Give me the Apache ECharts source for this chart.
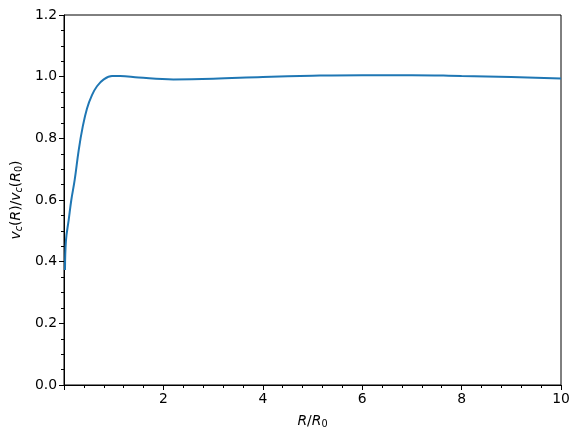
<!DOCTYPE html>
<html>
<head>
<meta charset="utf-8">
<script src="https://cdn.jsdelivr.net/npm/echarts@6/dist/echarts.min.js"></script>
<style>
  html, body { margin: 0; padding: 0; background: #fff; }
  #main { width: 579px; height: 440px; }
</style>
</head>
<body>
<div id="main"></div>
<script>
// R/R0 values
var radius = [0.02, 0.04, 0.094, 0.147, 0.215, 0.296, 0.376, 0.463, 0.563, 0.664, 0.8, 0.966, 1.13, 1.5, 2.2, 3, 4, 5, 6, 7, 8, 9, 10];
// vc(R)/vc(R0)
var vcRatio = [0.373, 0.47, 0.535, 0.6, 0.665, 0.762, 0.837, 0.897, 0.94, 0.969, 0.991, 1.002, 1.002, 0.997, 0.991, 0.993, 0.999, 1.003, 1.005, 1.005, 1.002, 0.999, 0.994];

var points = radius.map(function (r, i) { return [r, vcRatio[i]]; });

var font = 'DejaVu Sans';
var chart = echarts.init(document.getElementById('main'));

var option = {
  animation: false,
  grid: {
    left: 64, right: 18, top: 15, bottom: 55,
    show: true, borderColor: '#000', borderWidth: 1   // frame round the plot
  },
  xAxis: {
    type: 'value',
    min: 0, max: 10, interval: 2,
    splitLine: { show: false },
    axisLine: { lineStyle: { color: '#000', width: 1 } },
    axisTick: { length: 5, lineStyle: { color: '#000' } },
    minorTick: { show: true, splitNumber: 5, length: 3, lineStyle: { color: '#000' } },
    axisLabel: {
      color: '#000', fontFamily: font, fontSize: 13.9, margin: 7,
      formatter: function (v) { return v === 0 ? '' : v; }   // no 0 label
    },
    name: '{i|R}{n|/}{i|R}{s|0}',
    nameLocation: 'middle',
    nameGap: 28,
    nameTextStyle: {
      rich: {
        i: { fontFamily: font, fontStyle: 'italic', fontSize: 13.9, color: '#000', lineHeight: 16 },
        n: { fontFamily: font, fontSize: 13.9, color: '#000', lineHeight: 16 },
        s: { fontFamily: font, fontSize: 9.7, color: '#000', lineHeight: 16, verticalAlign: 'bottom' }
      }
    }
  },
  yAxis: {
    type: 'value',
    min: 0, max: 1.2, interval: 0.2,
    splitLine: { show: false },
    axisLine: { show: true, lineStyle: { color: '#000', width: 1 } },
    axisTick: { show: true, length: 5, lineStyle: { color: '#000' } },
    minorTick: { show: true, splitNumber: 4, length: 3, lineStyle: { color: '#000' } },
    axisLabel: {
      color: '#000', fontFamily: font, fontSize: 13.9, margin: 7,
      formatter: function (v) { return v.toFixed(1); }
    },
    name: '{i|v}{si|c}{n|(}{i|R}{n|)/}{i|v}{si|c}{n|(}{i|R}{s|0}{n|)}',
    nameLocation: 'middle',
    nameGap: 38,
    nameTextStyle: {
      rich: {
        i: { fontFamily: font, fontStyle: 'italic', fontSize: 13.9, color: '#000', lineHeight: 16 },
        n: { fontFamily: font, fontSize: 13.9, color: '#000', lineHeight: 16 },
        s: { fontFamily: font, fontSize: 9.7, color: '#000', lineHeight: 16, verticalAlign: 'bottom' },
        si: { fontFamily: font, fontStyle: 'italic', fontSize: 9.7, color: '#000', lineHeight: 16, verticalAlign: 'bottom' }
      }
    }
  },
  series: [{
    type: 'line',
    data: points,
    showSymbol: false,
    smooth: 0.4,
    lineStyle: { color: '#1f77b4', width: 2 },
    itemStyle: { color: '#1f77b4' }
  }]
};

chart.setOption(option);
</script>
</body>
</html>
